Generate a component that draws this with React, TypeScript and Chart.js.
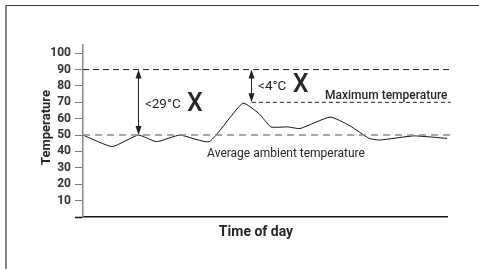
import React, { useEffect, useRef } from "react";
import { Chart, registerables } from "chart.js";

Chart.register(...registerables);

// Time of day (relative position along the axis, 0..100)
const timePoints = [0, 8.0, 15.2, 20.2, 26.6, 34.7, 43.9, 48.4, 51.6, 56.3, 59.6, 67.9, 73.1, 78.6, 81.6, 90.9, 100];
// Measured temperature
const temperatures = [50, 43, 50, 46, 50, 46, 69.5, 63, 55, 55, 54, 61, 56, 48, 47, 49.5, 48];
// Y tick values
const yTicks = [0, 10, 20, 30, 40, 50, 60, 70, 80, 90, 100];

// Reference levels
const limitTemp = 90;
const maxTemp = 70;
const ambientTemp = 50;
const maxLineStart = 46.4;

// Difference arrows
const arrowX = [15.2, 46.2];
const arrowLow = [50, 70];
const arrowHigh = [90, 90];

const FONT = "Roboto, 'Noto Sans', sans-serif";
const TEXT = "#262626";

const annotationPlugin = {
  id: "annotations",
  afterDatasetsDraw(chart: any) {
    const { ctx, scales } = chart;
    const xs = scales.x;
    const ys = scales.y;
    ctx.save();
    // arrows
    ctx.strokeStyle = "#222";
    ctx.fillStyle = "#222";
    ctx.lineWidth = 1;
    for (let i = 0; i < arrowX.length; i++) {
      const x = Math.round(xs.getPixelForValue(arrowX[i])) + 0.5;
      const y1 = ys.getPixelForValue(arrowHigh[i]);
      const y2 = ys.getPixelForValue(arrowLow[i]);
      ctx.beginPath();
      ctx.moveTo(x, y1 + 6);
      ctx.lineTo(x, y2 - 6);
      ctx.stroke();
      ctx.beginPath();
      ctx.moveTo(x, y1);
      ctx.lineTo(x - 3, y1 + 9);
      ctx.lineTo(x + 3, y1 + 9);
      ctx.closePath();
      ctx.fill();
      ctx.beginPath();
      ctx.moveTo(x, y2);
      ctx.lineTo(x - 3, y2 - 9);
      ctx.lineTo(x + 3, y2 - 9);
      ctx.closePath();
      ctx.fill();
    }
    const text = (s: string, vx: number, vy: number, font: string, align: CanvasTextAlign = "left") => {
      ctx.font = font;
      ctx.textAlign = align;
      ctx.textBaseline = "middle";
      ctx.fillStyle = TEXT;
      ctx.fillText(s, xs.getPixelForValue(vx), ys.getPixelForValue(vy));
    };
    text("<29°C", 17.0, 68.7, `13.5px ${FONT}`);
    text("X", 28.6, 68.4, `500 25px ${FONT}`);
    text("<4°C", 48.1, 79.4, `13.5px ${FONT}`);
    text("X", 57.6, 80.0, `500 25px ${FONT}`);
    text("Maximum temperature", 66.5, 73.6, `500 12px ${FONT}`);
    text("Average ambient temperature", 34.1, 38.2, `12px ${FONT}`);

    // axis titles
    ctx.font = `bold 14px ${FONT}`;
    ctx.textAlign = "center";
    ctx.textBaseline = "middle";
    ctx.fillStyle = TEXT;
    ctx.fillText("Time of day", 256, 232);
    ctx.translate(46.5, 127.5);
    ctx.rotate(-Math.PI / 2);
    ctx.font = `bold 13px ${FONT}`;
    ctx.fillText("Temperature", 0, 0);
    ctx.restore();
  },
};

export default function App() {
  const ref = useRef<HTMLCanvasElement | null>(null);
  useEffect(() => {
    if (!ref.current) return;
    const pts = timePoints.map((t, i) => ({ x: t, y: temperatures[i] }));
    const chart = new Chart(ref.current, {
      type: "line",
      data: {
        datasets: [
          {
            label: "Limit",
            data: [{ x: 0, y: limitTemp }, { x: 101, y: limitTemp }],
            borderColor: "#222",
            borderWidth: 1,
            borderDash: [6, 4],
            pointRadius: 0,
          },
          {
            label: "Maximum temperature",
            data: [{ x: maxLineStart, y: maxTemp }, { x: 101, y: maxTemp }],
            borderColor: "#222",
            borderWidth: 1,
            borderDash: [4, 3],
            pointRadius: 0,
          },
          {
            label: "Average ambient temperature",
            data: [{ x: 0, y: ambientTemp }, { x: 101, y: ambientTemp }],
            borderColor: "#8a8a8a",
            borderWidth: 1.5,
            borderDash: [7, 5],
            pointRadius: 0,
          },
          {
            label: "Temperature",
            data: pts,
            borderColor: "#111",
            borderWidth: 1,
            tension: 0.15,
            pointRadius: 0,
          },
        ],
      },
      options: {
        animation: false,
        responsive: false,
        events: [],
        clip: false as any,
        layout: { padding: { left: 0, top: 45, right: 32, bottom: 52 } },
        plugins: { legend: { display: false }, tooltip: { enabled: false } },
        scales: {
          x: {
            type: "linear",
            min: 0,
            max: 100,
            grid: { display: false },
            ticks: { display: false },
            border: { display: true, color: "#111", width: 1.5 },
            afterFit: (s: any) => {
              s.height = 0;
            },
          },
          y: {
            min: 0,
            max: 105,
            afterBuildTicks: (s: any) => {
              s.ticks = yTicks.map((v) => ({ value: v }));
            },
            ticks: {
              autoSkip: false,
              padding: 4,
              color: "#333",
              font: { family: FONT, size: 12, weight: "bold" },
              callback: (v: any) => (v === 0 ? "" : String(v)),
            },
            grid: {
              drawOnChartArea: false,
              drawTicks: true,
              tickLength: 8,
              tickColor: (c: any) => (c.tick && c.tick.value === 0 ? "#111" : "#777"),
              tickWidth: (c: any) => (c.tick && c.tick.value === 0 ? 1.5 : 1),
            },
            border: { display: true, color: "#888", width: 1.5 },
            afterFit: (s: any) => {
              s.width = 83;
            },
          },
        },
      },
      plugins: [annotationPlugin],
    } as any);
    return () => chart.destroy();
  }, []);
  return (
    <>
      <div
        style={{
          position: "fixed",
          left: 5,
          top: 5,
          width: 474,
          height: 264,
          borderTop: "1px solid #333",
          borderLeft: "2px solid #888",
          boxSizing: "border-box",
        }}
      />
      <canvas
        ref={ref}
        width={479}
        height={269}
        style={{ position: "fixed", left: 0, top: 0, width: 479, height: 269 }}
      />
    </>
  );
}
